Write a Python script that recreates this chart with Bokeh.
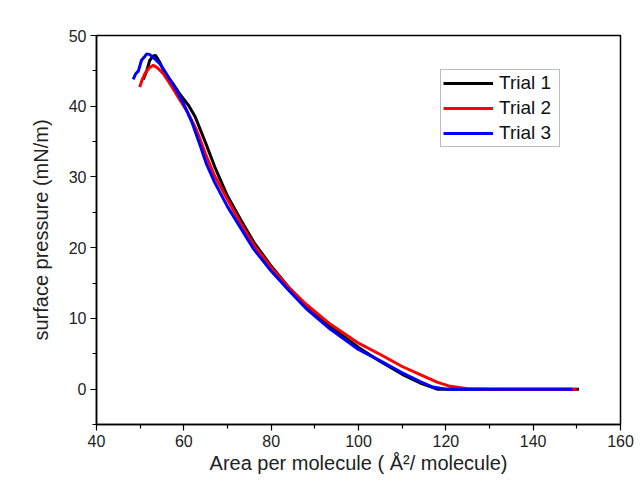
from bokeh.plotting import figure
from bokeh.models import Range1d, Legend, LegendItem, FixedTicker
from bokeh.embed import file_html
from bokeh.resources import INLINE

# Trial 1 (black)
t1_x = [50.7, 51.5, 52.2, 53.0, 53.5, 54.5, 55.7, 57.5, 59.1, 61.0, 62.6, 65.0, 67.1, 70.0,
        73.0, 76.0, 80.0, 84.0, 88.0, 94.3, 100.0, 105.0, 110.0, 114.0, 118.0, 125.0, 130.0,
        140.0, 150.5]
t1_y = [43.8, 45.0, 46.5, 47.1, 47.2, 46.2, 44.6, 43.2, 41.7, 40.2, 38.5, 34.8, 31.4, 27.3,
        24.0, 20.8, 17.4, 14.4, 11.8, 8.5, 5.9, 3.9, 2.1, 0.9, 0.0, 0.0, 0.0, 0.0, 0.0]

# Trial 2 (red)
t2_x = [49.9, 50.5, 51.1, 52.0, 53.0, 54.0, 55.3, 57.0, 59.0, 61.0, 63.0, 65.0, 67.0, 70.0,
        73.0, 76.0, 80.0, 84.0, 88.0, 93.5, 100.0, 105.0, 110.0, 114.0, 118.0, 121.0, 125.0,
        130.0, 140.0, 150.0]
t2_y = [42.7, 43.8, 44.6, 45.4, 45.8, 45.4, 44.6, 43.0, 41.0, 39.0, 36.5, 33.2, 30.2, 26.8,
        23.5, 20.4, 17.2, 14.4, 12.0, 9.2, 6.5, 4.9, 3.2, 2.1, 1.0, 0.4, 0.05, 0.0, 0.0, 0.0]

# Trial 3 (blue)
t3_x = [48.4, 49.0, 49.6, 50.3, 51.0, 51.5, 52.2, 53.0, 54.5, 56.0, 58.0, 60.0, 62.0, 64.0,
        65.2, 67.0, 70.0, 73.0, 76.0, 80.0, 84.0, 88.0, 93.5, 100.0, 105.0, 110.0, 114.0,
        117.0, 120.0, 130.0, 140.0, 149.0]
t3_y = [43.8, 44.6, 45.0, 46.5, 47.0, 47.4, 47.3, 46.9, 46.0, 44.6, 42.6, 40.3, 37.5, 34.0,
        31.8, 29.3, 25.8, 22.8, 19.8, 16.7, 14.0, 11.4, 8.5, 5.6, 4.0, 2.3, 1.1, 0.3, 0.0, 0.0,
        0.0, 0.0]

x_ticks = [40, 60, 80, 100, 120, 140, 160]
x_minor = [50, 70, 90, 110, 130, 150]
y_ticks = [0, 10, 20, 30, 40, 50]
y_minor = [-5, 5, 15, 25, 35, 45]

p = figure(width=634, height=477, output_backend="svg", toolbar_location=None,
           x_range=Range1d(40, 160), y_range=Range1d(-5, 50),
           min_border_left=96, min_border_right=14, min_border_top=35, min_border_bottom=53)
p.background_fill_color = "white"
p.border_fill_color = "white"
p.grid.visible = False
p.outline_line_color = "black"
p.outline_line_width = 1.5

r1 = p.line(t1_x, t1_y, line_color="black", line_width=3)
r2 = p.line(t2_x, t2_y, line_color="#ff0000", line_width=3)
r3 = p.line(t3_x, t3_y, line_color="#0000ff", line_width=3)

for ax in (p.xaxis[0], p.yaxis[0]):
    ax.axis_line_color = "black"
    ax.axis_line_width = 1.5
    ax.major_tick_line_color = "black"
    ax.minor_tick_line_color = "black"
    ax.major_tick_line_width = 1.2
    ax.minor_tick_line_width = 1.2
    ax.major_tick_out = 6
    ax.major_tick_in = 0
    ax.minor_tick_out = 4
    ax.minor_tick_in = 0
    ax.major_label_text_font = "Liberation Sans"
    ax.major_label_text_font_size = "16px"
    ax.major_label_text_color = "#222222"
    ax.major_label_standoff = 4
    ax.axis_label_text_font = "Liberation Sans"
    ax.axis_label_text_font_size = "20px"
    ax.axis_label_text_font_style = "normal"
    ax.axis_label_text_color = "#222222"

p.xaxis[0].ticker = FixedTicker(ticks=x_ticks, minor_ticks=x_minor)
p.yaxis[0].ticker = FixedTicker(ticks=y_ticks, minor_ticks=y_minor)
p.xaxis[0].axis_label = "Area per molecule ( Å²/ molecule)"
p.yaxis[0].axis_label = "surface pressure (mN/m)"
p.xaxis[0].axis_label_standoff = 2
p.yaxis[0].axis_label_standoff = 14

legend = Legend(items=[LegendItem(label="Trial 1", renderers=[r1]),
                       LegendItem(label="Trial 2", renderers=[r2]),
                       LegendItem(label="Trial 3", renderers=[r3])],
                location=(344, 277))
legend.label_text_font = "Liberation Sans"
legend.label_text_font_size = "19px"
legend.label_text_color = "#111111"
legend.border_line_color = "#777777"
legend.border_line_width = 1
legend.glyph_width = 50
legend.glyph_height = 20
legend.label_height = 20
legend.label_width = 58
legend.spacing = 3
legend.padding = 2
legend.margin = 0
legend.label_standoff = 6
legend.background_fill_alpha = 1.0
p.add_layout(legend, "center")

open("out.html", "w").write(file_html(p, INLINE))
